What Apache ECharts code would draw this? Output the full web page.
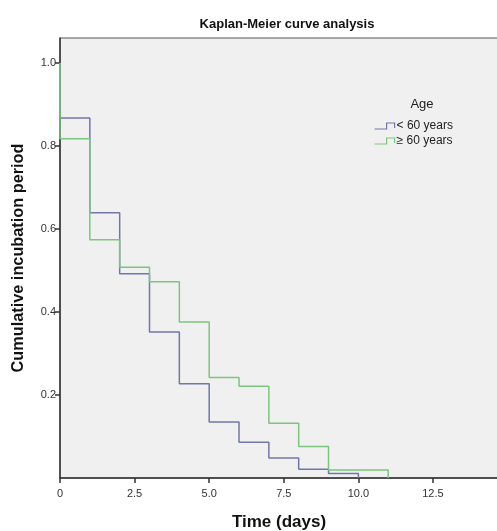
<!DOCTYPE html>
<html>
<head>
<meta charset="utf-8">
<script src="https://cdn.jsdelivr.net/npm/echarts@6/dist/echarts.min.js"></script>
<style>
  html, body { margin: 0; padding: 0; background: #fff; }
  #estrutura { width: 497px; height: 531px; }
</style>
</head>
<body>
<div id="estrutura"></div>
<script>
// values (step heights start at each time)
var timesLt60 = [0, 0, 1, 2, 3, 4, 5, 6, 7, 8, 9, 10];
var survLt60  = [1, 0.867, 0.639, 0.492, 0.352, 0.227, 0.135, 0.086, 0.048, 0.021, 0.011, 0];
var timesGe60 = [0, 0, 1, 2, 3, 4, 5, 6, 7, 8, 9, 11];
var survGe60  = [1, 0.817, 0.574, 0.508, 0.473, 0.376, 0.242, 0.221, 0.132, 0.076, 0.019, 0];
var seriesNames = ['< 60 years', '\u2265 60 years'];
var seriesColors = ['#7077aa', '#7cc57c'];
var xTicks = [0, 2.5, 5, 7.5, 10, 12.5];
var yTicks = [0.2, 0.4, 0.6, 0.8, 1.0];

function pares(t, s) {
    var out = [];
    for (var i = 0; i < t.length; i++) out.push([t[i], s[i]]);
    return out;
}

var font = "'Liberation Sans', Arial, sans-serif";
var chart = echarts.init(document.getElementById('estrutura'));

var option = {
    backgroundColor: '#fff',
    textStyle: { fontFamily: font },
    title: [
        {
            text: 'Kaplan-Meier curve analysis',
            left: 282, top: 13, textAlign: 'center',
            textStyle: { fontSize: 13, fontWeight: 'bold', color: '#111', fontFamily: font }
        },
        {
            text: 'Age',
            left: 417, top: 93, textAlign: 'center',
            textStyle: { fontSize: 13, fontWeight: 'normal', color: '#222', fontFamily: font }
        }
    ],
    legend: {
        orient: 'vertical',
        left: 369, top: 115,
        itemWidth: 20, itemHeight: 6, itemGap: 3,
        icon: 'path://M0,6 L12,6 L12,0 L20,0 L20,5',
        textStyle: { fontSize: 12, color: '#222', fontFamily: font, padding: [0, 0, 0, -3] },
        data: [
            { name: seriesNames[0], itemStyle: { color: 'transparent', borderColor: seriesColors[0], borderWidth: 1.2 } },
            { name: seriesNames[1], itemStyle: { color: 'transparent', borderColor: seriesColors[1], borderWidth: 1.2 } }
        ]
    },
    grid: {
        show: true, left: 60, top: 38, right: -1, bottom: 53,
        outerBoundsMode: 'none',
        backgroundColor: '#f0f0f0', borderColor: '#555', borderWidth: 1
    },
    xAxis: {
        type: 'value', min: 0, max: 14.68,
        name: 'Time (days)', nameLocation: 'middle', nameGap: 36,
        nameTextStyle: { fontSize: 17, fontWeight: 'bold', color: '#111', fontFamily: font },
        splitLine: { show: false },
        axisLine: { lineStyle: { color: '#333', width: 1.5 } },
        axisTick: { customValues: xTicks, length: 5, lineStyle: { color: '#333', width: 1.5 } },
        axisLabel: {
            customValues: xTicks, color: '#333', fontSize: 11, margin: 10,
            formatter: function (v) { return v === 0 ? '0' : v.toFixed(1); }
        }
    },
    yAxis: {
        type: 'value', min: 0, max: 1.06,
        name: 'Cumulative incubation period', nameLocation: 'middle', nameGap: 33,
        nameTextStyle: { fontSize: 16.3, fontWeight: 'bold', color: '#111', fontFamily: font },
        splitLine: { show: false },
        axisLine: { show: true, lineStyle: { color: '#333', width: 1.5 } },
        axisTick: { show: true, customValues: yTicks, length: 5, lineStyle: { color: '#333', width: 1.5 } },
        axisLabel: {
            customValues: yTicks, color: '#333', fontSize: 11, margin: 4,
            formatter: function (v) { return v.toFixed(1); }
        }
    },
    series: [
        {
            name: seriesNames[0], type: 'line', step: 'end', showSymbol: false,
            data: pares(timesLt60, survLt60),
            lineStyle: { color: seriesColors[0], width: 1.5 }, itemStyle: { color: seriesColors[0] }
        },
        {
            name: seriesNames[1], type: 'line', step: 'end', showSymbol: false,
            data: pares(timesGe60, survGe60),
            lineStyle: { color: seriesColors[1], width: 1.5 }, itemStyle: { color: seriesColors[1] }
        }
    ]
};

option && chart.setOption(option);
</script>
</body>
</html>
